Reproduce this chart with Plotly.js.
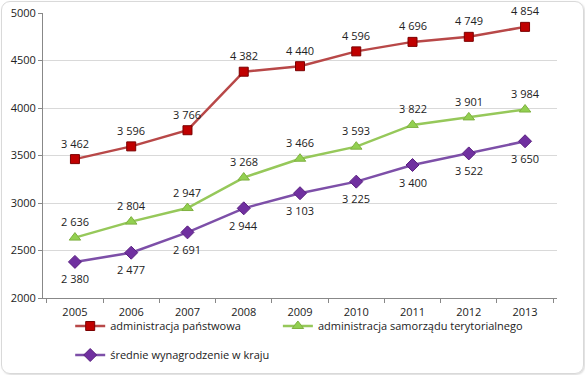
<!DOCTYPE html>
<html><head><meta charset="utf-8">
<script src="https://cdn.plot.ly/plotly-3.0.1.min.js"></script>
<style>
html,body{margin:0;padding:0;background:#fff;}
#wrap{position:relative;width:585px;height:375px;}
#chart{width:585px;height:375px;}
#frame{position:absolute;left:1px;top:1px;width:581px;height:371px;border:1px solid #d9d9d9;border-radius:9px;pointer-events:none;box-shadow:1px 1px 2px rgba(0,0,0,0.15);}
</style></head>
<body>
<div id="wrap"><div id="chart"></div><div id="frame"></div></div>
<script>
const years = ['2005','2006','2007','2008','2009','2010','2011','2012','2013'];
const adminPanstwowa = [3462,3596,3766,4382,4440,4596,4696,4749,4854];
const adminSamorzadu = [2636,2804,2947,3268,3466,3593,3822,3901,3984];
const srednieWynagrodzenie = [2380,2477,2691,2944,3103,3225,3400,3522,3650];
const seriesNames = ['administracja państwowa','administracja samorządu terytorialnego','średnie wynagrodzenie w kraju'];

const fam = '"Open Sans", "Liberation Sans", sans-serif';
const fmt = v => String(v).replace(/\B(?=(\d{3})+(?!\d))/g, ' ');

const traces = [
 {x:years, y:adminPanstwowa, name:seriesNames[0], mode:'lines+markers', legend:'legend',
  line:{color:'#B84848', width:2.5},
  marker:{symbol:'square', size:9, color:'#C00000', line:{color:'#7a0000', width:1}}},
 {x:years, y:adminSamorzadu, name:seriesNames[1], mode:'lines+markers', legend:'legend3',
  line:{color:'#96C85A', width:2.5},
  marker:{symbol:'triangle-up', size:10, color:'#92D050', line:{color:'#7fb040', width:1}}},
 {x:years, y:srednieWynagrodzenie, name:seriesNames[2], mode:'lines+markers', legend:'legend2',
  line:{color:'#7D4FA8', width:2.5},
  marker:{symbol:'diamond', size:10, color:'#7030A0', line:{color:'#5a2080', width:1}}}
];

const annotations = [];
function addLabels(vals, shift){
  vals.forEach((v,i)=>annotations.push({x:i, y:v, xref:'x', yref:'y', text:fmt(v),
    showarrow:false, yshift:shift, font:{family:fam, size:11, color:'#222'}}));
}
addLabels(adminPanstwowa, 16);
addLabels(adminSamorzadu, 16);
addLabels(srednieWynagrodzenie, -17);

const legendCommon = {orientation:'h', xanchor:'left', yanchor:'middle', xref:'container', yref:'container',
  font:{family:fam, size:11, color:'#222'}, itemwidth:30, bgcolor:'rgba(0,0,0,0)'};

const layout = {
 width:585, height:375,
 margin:{l:43, r:28, t:13, b:77},
 paper_bgcolor:'#fff', plot_bgcolor:'#fff',
 font:{family:fam, size:11, color:'#222'},
 showlegend:true,
 legend:Object.assign({}, legendCommon, {x:0.12, y:0.1307}),
 legend3:Object.assign({}, legendCommon, {x:0.475, y:0.1307}),
 legend2:Object.assign({}, legendCommon, {x:0.12, y:0.0533}),
 annotations:annotations,
 xaxis:{type:'category', showline:true, linecolor:'#888', linewidth:1,
   ticks:'outside', ticklen:4, tickcolor:'#888', tickson:'boundaries', ticklabelstandoff:4,
   showgrid:false, zeroline:false, tickfont:{size:11,color:'#222'}},
 yaxis:{range:[2000,5000], dtick:500, tickformat:'d', showline:true, linecolor:'#888', linewidth:1,
   ticks:'outside', ticklen:4, tickcolor:'#888', gridcolor:'#d9d9d9', gridwidth:1,
   zeroline:false, tickfont:{size:11,color:'#222'}}
};

Plotly.newPlot('chart', traces, layout, {displayModeBar:false, staticPlot:true});
</script>
</body></html>
